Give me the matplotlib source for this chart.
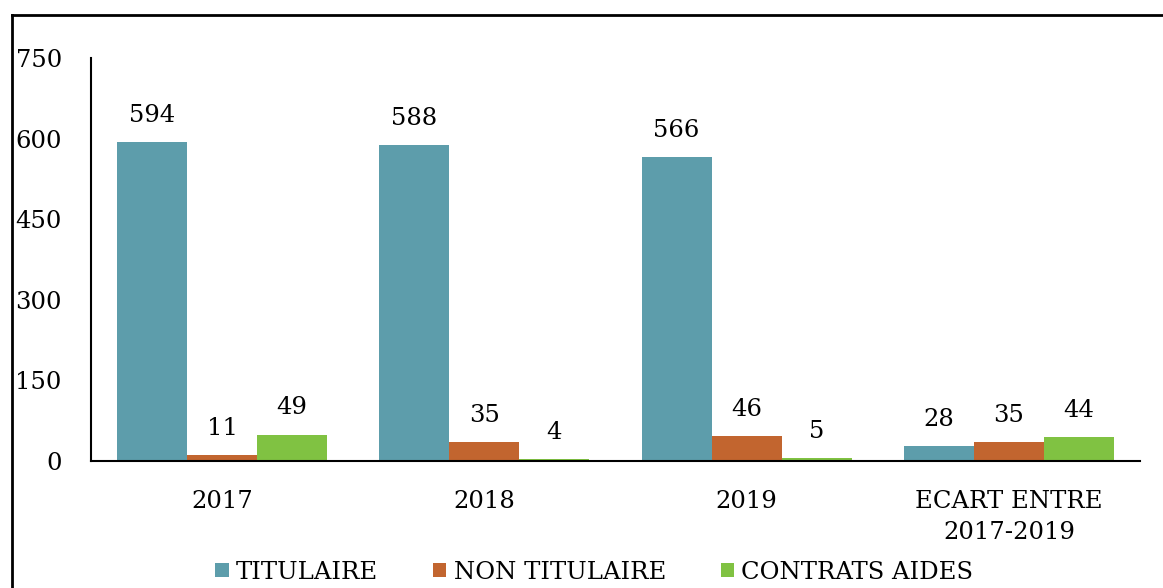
import matplotlib
matplotlib.use("Agg")
import matplotlib.pyplot as plt
import numpy as np
from matplotlib.lines import Line2D

categories = ["2017", "2018", "2019", "ECART ENTRE\n2017-2019"]
series_names = ["TITULAIRE", "NON TITULAIRE", "CONTRATS AIDES"]
titulaire = [594, 588, 566, 28]
non_titulaire = [11, 35, 46, 35]
contrats_aides = [49, 4, 5, 44]
yticks = [0, 150, 300, 450, 600, 750]
colors = ["#5d9dab", "#c2652f", "#80c242"]

plt.rcParams['font.family'] = ['DejaVu Serif']
FS = 17.5
fig = plt.figure(figsize=(11.63, 5.88), dpi=100)
ax = fig.add_axes([91/1163, 127/588, (1140-91)/1163, (461-58)/588])

x = np.arange(len(categories))
w = 0.267
for i, (vals, name, c) in enumerate(zip([titulaire, non_titulaire, contrats_aides], series_names, colors)):
    bars = ax.bar(x + (i-1)*w, vals, w, color=c, label=name)
    for b, v in zip(bars, vals):
        ax.annotate(str(v), (b.get_x()+b.get_width()/2, v), xytext=(0, 11),
                    textcoords="offset points", ha="center", va="bottom", fontsize=FS)

ax.set_xlim(-0.5, len(categories)-0.5)
ax.set_ylim(0, 750)
ax.set_yticks(yticks)
ax.set_yticklabels([str(t) for t in yticks], fontsize=FS)
ax.set_xticks(x)
ax.set_xticklabels(categories, fontsize=FS, linespacing=1.45)
ax.tick_params(axis='both', length=0)
ax.tick_params(axis='y', pad=21)
ax.tick_params(axis='x', pad=21)
for s in ["top", "right"]:
    ax.spines[s].set_visible(False)
ax.spines["left"].set_linewidth(1.5)
ax.spines["bottom"].set_linewidth(1.5)

fig.legend(loc="lower center", bbox_to_anchor=(0.511, -0.03), ncol=3, frameon=False,
           fontsize=FS, handlelength=0.55, handleheight=0.55, handletextpad=0.3, columnspacing=2.25)

y0 = 1 - 15/588
x0 = 12/1163
fig.add_artist(Line2D([x0, 1.0], [y0, y0], transform=fig.transFigure, color="black", lw=2))
fig.add_artist(Line2D([x0, x0], [0, y0], transform=fig.transFigure, color="black", lw=2))

fig.savefig("out.png", dpi=100)
